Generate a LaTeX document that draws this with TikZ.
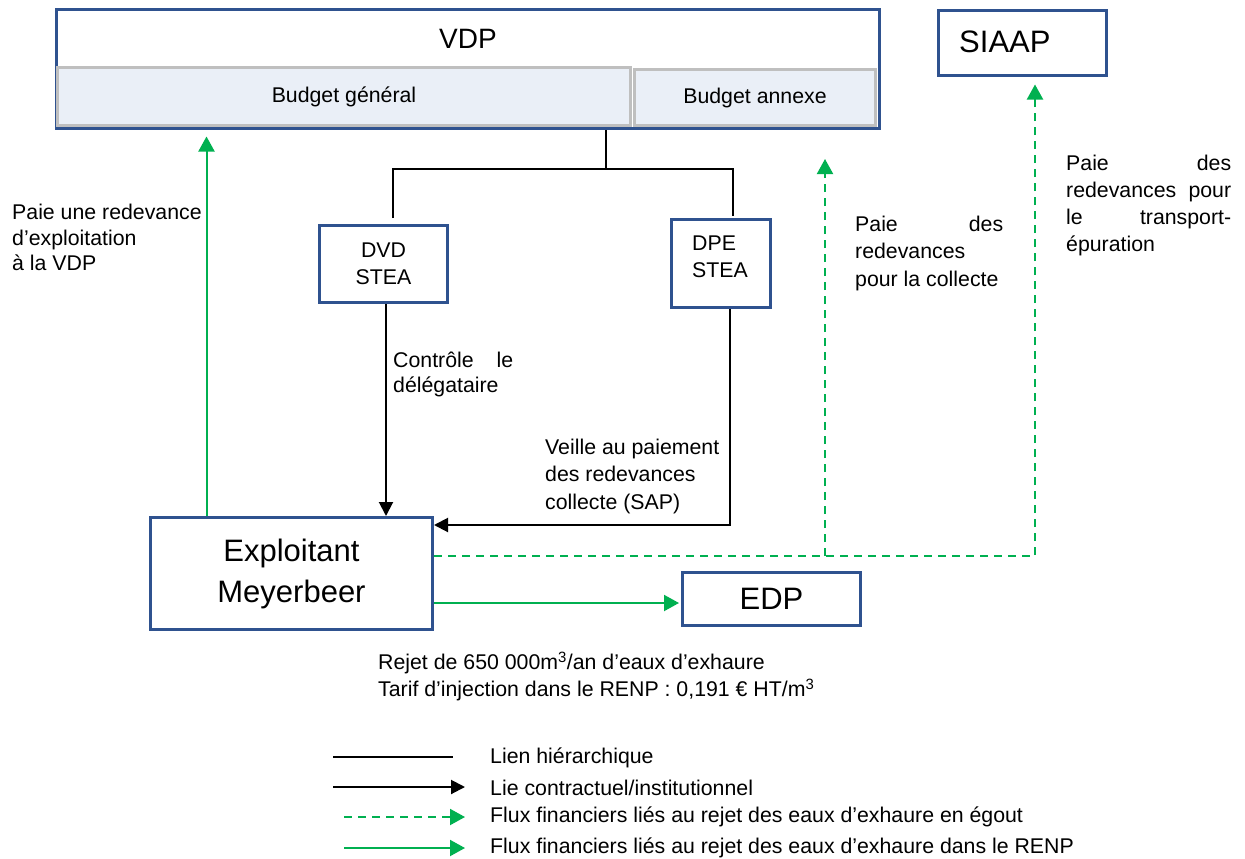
\documentclass[tikz,border=0pt]{standalone}
\usepackage{fontspec}
\setmainfont{Liberation Sans}
\usetikzlibrary{arrows.meta}
\definecolor{boxblue}{RGB}{47,82,143}
\definecolor{flowgreen}{RGB}{0,176,80}
\definecolor{budgetgray}{RGB}{191,191,191}
\definecolor{budgetfill}{RGB}{234,239,247}
\begin{document}
\begin{tikzpicture}[x=1pt,y=-1pt,
  bluebox/.style={draw=boxblue, line width=3pt, fill=white, inner sep=0pt},
  budgetbox/.style={draw=budgetgray, line width=3pt, fill=budgetfill, inner sep=0pt},
  small/.style={font=\fontsize{21.3}{27}\selectfont},
  txt/.style={small, inner sep=0pt, align=left},
  hier/.style={line width=2pt, black},
  contract/.style={line width=2pt, black, -{Triangle[width=14pt,length=14pt]}},
  dflow/.style={line width=2pt, flowgreen, dash pattern=on 8pt off 6pt, -{Triangle[width=16pt,length=15pt]}},
  gflow/.style={line width=2pt, flowgreen, -{Triangle[width=16pt,length=15pt]}},
]
\useasboundingbox[fill=white] (0,0) rectangle (1245,859);

% boxes
\node[bluebox, minimum width=823pt, minimum height=119pt] (vdp) at (468,69) {};
\node[budgetbox, minimum width=573pt, minimum height=58pt, small] (bg) at (344,96.5) {Budget général};
\node[budgetbox, minimum width=241pt, minimum height=56pt, small] (ba) at (755,97.5) {Budget annexe};
\node[font=\fontsize{28}{32}\selectfont, inner sep=0pt] (vdplabel) at (468,39) {VDP};

\node[bluebox, minimum width=168pt, minimum height=65pt] (siaap) at (1022.5,43) {};
\node[font=\fontsize{31}{37}\selectfont, anchor=west, inner sep=0pt] (siaaplabel) at (959,42) {SIAAP};

\node[bluebox, minimum width=128pt, minimum height=77pt, small, align=center] (dvd) at (383.5,264) {DVD\\STEA};
\node[bluebox, minimum width=99pt, minimum height=88pt] (dpe) at (721,263.5) {};
\node[txt, anchor=west] (dpelabel) at (692,256.5) {DPE\\STEA};

\node[bluebox, minimum width=282pt, minimum height=112pt, font=\fontsize{31}{41}\selectfont, align=center] (expl) at (291.5,573.5) {Exploitant\\Meyerbeer};
\node[bluebox, minimum width=178pt, minimum height=53pt, font=\fontsize{31}{37}\selectfont] (edp) at (771.5,599) {EDP};

% hierarchy
\coordinate (h0) at (606,169);
\coordinate (hl) at ([xshift=9.5pt,yshift=6pt]dvd.north);
\coordinate (hr) at ([xshift=12pt,yshift=2pt]dpe.north);
\draw[hier] (vdp.south -| h0) -- (h0);
\draw[hier] (hl) |- (h0) -| (hr);

% contractual
\coordinate (c1) at ([xshift=2.5pt]dvd.south);
\draw[contract] (c1) -- (c1 |- expl.north);
\coordinate (c2) at ([xshift=9pt]dpe.south);
\coordinate (c3) at (730,525);
\draw[contract] (c2) -- (c3) -- (c3 -| expl.east);

% financial flows
\coordinate (g1) at ([xshift=57.5pt]expl.north west);
\draw[gflow, shorten >=6.5pt] (g1) -- (g1 |- vdp.south);
\coordinate (d1) at (825,556);
\coordinate (d2) at (1035,556);
\coordinate (t1) at (825,159);
\draw[dflow, shorten >=7.5pt] (d1 -| expl.east) -- (d2) -- (d2 |- siaap.south);
\draw[dflow] (d1) -- (t1);
\coordinate (e1) at ([yshift=-4pt]edp.west);
\draw[gflow, shorten >=2pt] (e1 -| expl.east) -- (e1);

% labels
\node[txt, anchor=west, font=\fontsize{21.3}{25.5}\selectfont] (lblpaie) at (12,237.5) {Paie une redevance\\d’exploitation\\à la VDP};
\node[txt, anchor=west, font=\fontsize{21.3}{25}\selectfont] (lblctrl) at (393,374.5) {\hbox to 120pt{Contrôle\hfill le}\\délégataire};
\node[txt, anchor=west, font=\fontsize{21.3}{27.5}\selectfont] (lblveille) at (545,476) {Veille au paiement\\des redevances\\collecte (SAP)};
\node[txt, anchor=west, font=\fontsize{21.3}{27.5}\selectfont] (lblcoll) at (855,253) {\hbox to 148pt{Paie\hfill des}\\redevances\\pour la collecte};
\node[txt, anchor=west, font=\fontsize{21.3}{27}\selectfont] (lbltransp) at (1066,205.5) {\hbox to 165pt{Paie\hfill des}\\\hbox to 165pt{redevances\hfill pour}\\\hbox to 165pt{le\hfill transport-}\\épuration};
\node[txt, anchor=west, font=\fontsize{21.3}{27}\selectfont] (rejet) at (378,676.5) {Rejet de 650 000m\textsuperscript{3}/an d’eaux d’exhaure\\Tarif d’injection dans le RENP : 0,191 € HT/m\textsuperscript{3}};

% legend
\coordinate (la1) at (333,757); \coordinate (la2) at (453,757);
\coordinate (lb1) at (333,787); \coordinate (lb2) at (465,787);
\coordinate (lc1) at (344,817); \coordinate (lc2) at (465,817);
\coordinate (ld1) at (344,848); \coordinate (ld2) at (465,848);
\draw[hier] (la1) -- (la2);
\draw[contract] (lb1) -- (lb2);
\draw[dflow] (lc1) -- (lc2);
\draw[gflow] (ld1) -- (ld2);
\node[txt, anchor=west] (lega) at (490,758) {Lien hiérarchique};
\node[txt, anchor=west] (legb) at (490,788) {Lie contractuel/institutionnel};
\node[txt, anchor=west] (legc) at (490,817) {Flux financiers liés au rejet des eaux d’exhaure en égout};
\node[txt, anchor=west] (legd) at (490,848) {Flux financiers liés au rejet des eaux d’exhaure dans le RENP};
\end{tikzpicture}
\end{document}
